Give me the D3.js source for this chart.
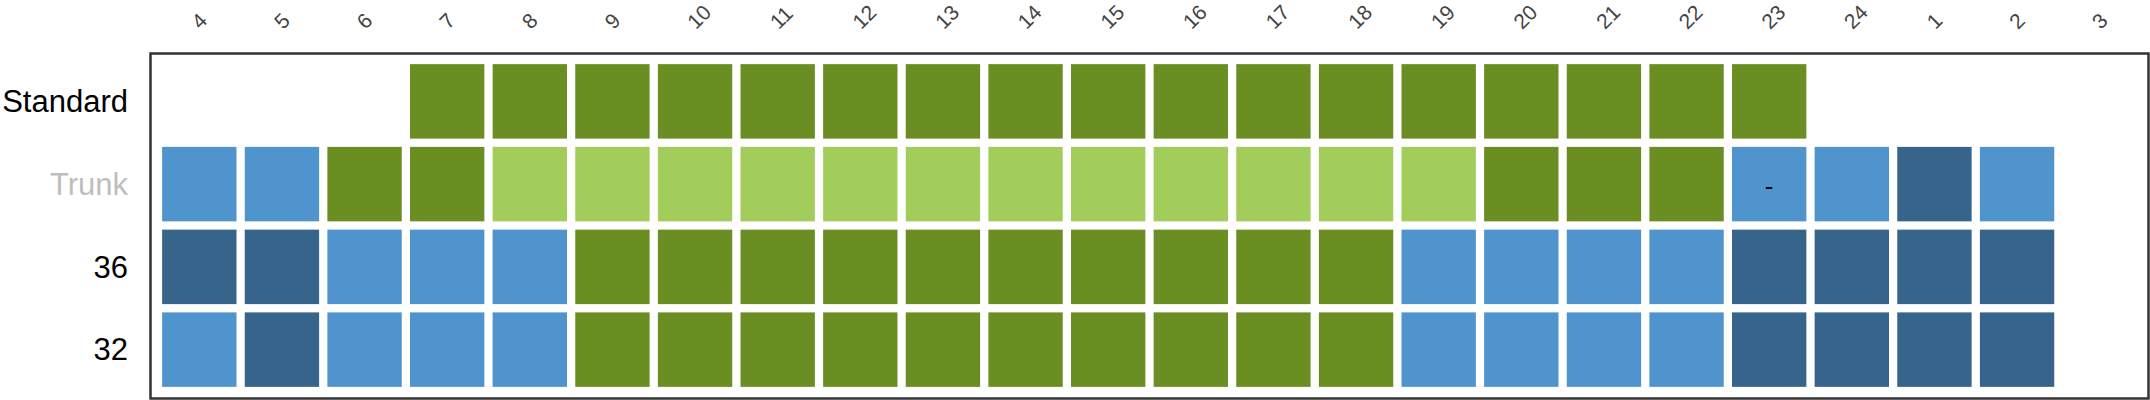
<!DOCTYPE html>
<html>
<head>
<meta charset="utf-8">
<script src="https://cdn.jsdelivr.net/npm/d3@7"></script>
<style>
  html, body { margin: 0; padding: 0; background: #fff; }
  svg { display: block; }
  text { font-family: "Liberation Sans", Arial, sans-serif; }
</style>
</head>
<body>
<svg id="chart" width="2150" height="400"></svg>
<script>
// ---- data ----
const hours = ["4","5","6","7","8","9","10","11","12","13","14","15","16","17","18","19","20","21","22","23","24","1","2","3"];
const rowNames = ["Standard","Trunk","36","32"];

// category codes: G = olivedrab, L = light green, B = steel blue, D = dark steel blue, null = empty
const standardRow = [null,null,null,"G","G","G","G","G","G","G","G","G","G","G","G","G","G","G","G","G",null,null,null,null];
const trunkRow    = ["B","B","G","G","L","L","L","L","L","L","L","L","L","L","L","L","G","G","G","B","B","D","B",null];
const row36       = ["D","D","B","B","B","G","G","G","G","G","G","G","G","G","G","B","B","B","B","D","D","D","D",null];
const row32       = ["B","D","B","B","B","G","G","G","G","G","G","G","G","G","G","B","B","B","B","D","D","D","D",null];

const categories = ["G","L","B","D"];
const categoryColors = ["#6B8E23","#A2CD5A","#4F94CD","#36648B"];

const cellLabels = [{ row: "Trunk", hour: "23", text: "-" }];

const rowLabelColors = ["#000000","#BEBEBE","#000000","#000000"];

// ---- build ----
const rowValues = [standardRow, trunkRow, row36, row32];
const cells = [];
rowNames.forEach((r, i) => {
  rowValues[i].forEach((v, j) => {
    if (v) cells.push({ row: r, hour: hours[j], cat: v });
  });
});

const svg = d3.select("#chart");

const x = d3.scaleBand().domain(hours).range([158, 2141]).paddingInner(0.1).paddingOuter(0.05);
const y = d3.scaleBand().domain(rowNames).range([60, 391]).paddingInner(0.1).paddingOuter(0.05);
const color = d3.scaleOrdinal().domain(categories).range(categoryColors);

// panel border
svg.append("rect")
  .attr("x", 150.5).attr("y", 53.5)
  .attr("width", 1998).attr("height", 345)
  .attr("fill", "none")
  .attr("stroke", "#333333")
  .attr("stroke-width", 2.5);

// cells
svg.append("g").selectAll("rect")
  .data(cells)
  .join("rect")
  .attr("x", d => x(d.hour))
  .attr("y", d => y(d.row))
  .attr("width", x.bandwidth())
  .attr("height", y.bandwidth())
  .attr("fill", d => color(d.cat));

// cell labels
svg.append("g").selectAll("text")
  .data(cellLabels)
  .join("text")
  .attr("x", d => x(d.hour) + x.bandwidth() / 2)
  .attr("y", d => y(d.row) + y.bandwidth() / 2 + 11)
  .attr("text-anchor", "middle")
  .style("font-size", "26px")
  .style("fill", "#000")
  .text(d => d.text);

// x axis labels (top, rotated -45)
const xl = svg.append("g").attr("class", "xlabels").selectAll("g")
  .data(hours)
  .join("g")
  .attr("transform", d => "translate(" + (x(d) + x.bandwidth() / 2) + ",21) rotate(-45)");
xl.append("text")
  .attr("x", 0).attr("y", 0)
  .attr("dx", "-0.28em")
  .attr("dy", "0.35em")
  .style("text-anchor", "start")
  .style("font-size", "21px")
  .style("fill", "#444444")
  .text(d => d);

// y axis labels
const yAxis = d3.axisLeft(y).tickSize(0).tickPadding(0);
const gy = svg.append("g").attr("transform", "translate(128,0)").call(yAxis);
gy.select(".domain").remove();
gy.selectAll("text")
  .attr("x", 0)
  .attr("dy", "0.35em")
  .attr("text-anchor", "end")
  .attr("font-size", 31)
  .attr("font-family", "'Liberation Sans', Arial, sans-serif")
  .attr("fill", (d, i) => rowLabelColors[i]);
</script>
</body>
</html>
